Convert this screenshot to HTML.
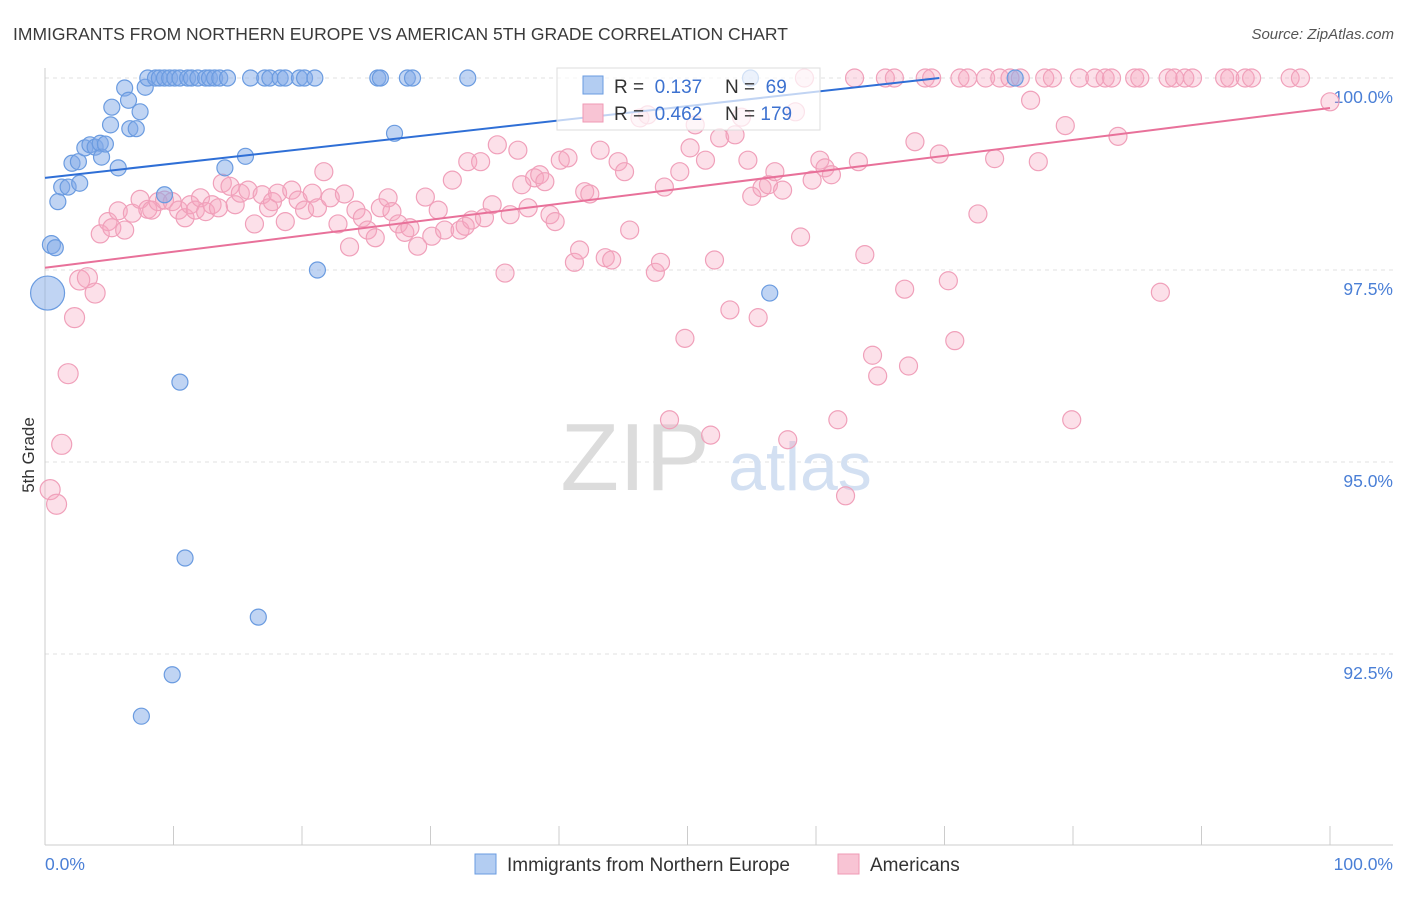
<!DOCTYPE html>
<html><head><meta charset="utf-8">
<style>
body{margin:0;background:#fff;font-family:"Liberation Sans",sans-serif;}
svg text{font-family:"Liberation Sans",sans-serif;}
</style></head>
<body>
<svg id="chart" width="1406" height="892" xmlns="http://www.w3.org/2000/svg">
<text x="13" y="40" font-size="17.5" fill="#3a3a3a">IMMIGRANTS FROM NORTHERN EUROPE VS AMERICAN 5TH GRADE CORRELATION CHART</text>
<text x="1394" y="39" font-size="15" fill="#555" font-style="italic" text-anchor="end">Source: ZipAtlas.com</text>
<g id="grid"></g>
<g>
<text x="635" y="490" font-size="96" fill="#dcdcdc" font-family="Liberation Serif" text-anchor="middle">ZIP</text>
<text x="800" y="490" font-size="68" fill="#d3e0f2" text-anchor="middle">atlas</text>
</g>
<g id="axes"></g>
<g id="pinkPts"></g>
<g id="bluePts"></g>
<g id="trends"></g>
<text transform="translate(34,455) rotate(-90)" font-size="17" fill="#333" text-anchor="middle">5th Grade</text>
<g>
<rect x="557" y="68" width="263" height="62" fill="#fff" fill-opacity="0.7" stroke="#ddd"/>
<rect x="583" y="76" width="20" height="18" fill="#b3cdf2" stroke="#6a9be0"/>
<rect x="583" y="104" width="20" height="18" fill="#f8c4d4" stroke="#ef9ab5"/>
<text x="614" y="93" font-size="19" fill="#333">R = <tspan fill="#3d72d0">&#160;0.137</tspan><tspan x="725">N = </tspan><tspan fill="#3d72d0">&#160;69</tspan></text>
<text x="614" y="120" font-size="19" fill="#333">R = <tspan fill="#3d72d0">&#160;0.462</tspan><tspan x="725">N = </tspan><tspan fill="#3d72d0">179</tspan></text>
</g>
<g>
<rect x="475" y="854" width="21" height="20" fill="#b3cdf2" stroke="#6a9be0"/>
<text x="507" y="871" font-size="19" fill="#333">Immigrants from Northern Europe</text>
<rect x="838" y="854" width="21" height="20" fill="#f8c4d4" stroke="#ef9ab5"/>
<text x="870" y="871" font-size="19" fill="#333">Americans</text>
</g>
</svg>
<script>
const yTicks=[92.5,95.0,97.5,100.0];
const xTickCount=10;
const blueX=[0.5,0.2,0.8,1.0,1.3,1.8,2.7,2.1,2.6,3.1,3.5,3.9,4.3,4.4,4.7,5.2,5.1,5.7,6.2,6.5,6.6,7.1,7.4,7.8,8.0,8.6,8.9,9.3,9.7,10.1,10.5,11.1,11.4,11.9,12.5,12.8,13.2,13.6,14.2,16.0,17.1,17.5,18.3,18.7,19.8,20.2,21.0,25.9,26.1,28.2,28.6,32.9,54.9,75.5,9.3,14.0,15.6,27.2,21.2,10.5,10.9,16.6,9.9,7.5,56.4];
const blueY=[97.83,97.2,97.79,98.39,98.58,98.58,98.63,98.89,98.91,99.09,99.13,99.10,99.15,98.97,99.14,99.62,99.39,98.83,99.87,99.71,99.34,99.34,99.56,99.88,100,100,100,100,100,100,100,100,100,100,100,100,100,100,100,100,100,100,100,100,100,100,100,100,100,100,100,100,100,100,98.48,98.83,98.98,99.28,97.50,96.04,93.75,92.98,92.23,91.69,97.20];
const blueR=[10,18,9,9,9,9,9,9,9,9,9,9,9,9,9,9,9,9,9,9,9,9,9,9,9,9,9,9,9,9,9,9,9,9,9,9,9,9,9,9,9,9,9,9,9,9,9,9,9,9,9,9,9,9,9,9,9,9,9,9,9,9,9,9,9];
const pinkX=[0.4,0.9,1.3,1.8,2.3,2.7,3.3,3.9,4.3,4.9,5.2,5.7,6.2,6.8,7.4,8.0,8.3,8.8,9.3,9.9,10.4,10.9,11.3,11.7,12.1,12.5,13.0,13.5,13.8,14.4,14.8,15.2,15.8,16.3,16.9,17.4,17.7,18.1,18.7,19.2,19.7,20.2,20.8,21.2,21.7,22.2,22.8,23.3,23.7,24.2,24.7,25.1,25.7,26.1,26.7,27.0,27.5,28.0,28.4,29.0,29.6,30.1,30.6,31.1,31.7,32.3,32.7,32.9,33.2,33.9,34.2,34.8,35.2,35.8,36.2,36.8,37.1,37.6,38.1,38.5,38.9,39.3,39.7,40.1,40.7,41.2,41.6,42.0,42.4,43.2,43.6,44.1,44.6,45.1,45.5,46.3,46.9,47.5,47.9,48.2,48.6,49.4,49.8,50.2,50.6,51.4,51.8,52.1,52.5,53.3,53.7,54.2,54.7,55.0,55.5,55.8,56.3,56.8,57.4,57.8,58.4,58.8,59.1,59.7,60.3,60.7,61.2,61.7,62.3,63.0,63.3,63.8,64.4,64.8,65.4,66.1,66.9,67.2,67.7,68.5,69.0,69.6,70.3,70.8,71.2,71.8,72.6,73.2,73.9,74.3,75.1,75.9,76.7,77.3,77.8,78.4,79.4,79.9,80.5,81.7,82.5,83.0,83.5,84.8,85.2,86.8,87.4,87.9,88.7,89.3,91.8,92.2,93.4,93.9,96.9,97.7,100];
const pinkY=[94.64,94.45,95.23,96.15,96.88,97.37,97.40,97.20,97.97,98.13,98.05,98.27,98.02,98.24,98.42,98.29,98.28,98.39,98.41,98.39,98.28,98.18,98.35,98.28,98.44,98.26,98.35,98.31,98.63,98.59,98.35,98.50,98.54,98.10,98.48,98.31,98.39,98.50,98.13,98.54,98.41,98.28,98.50,98.31,98.78,98.44,98.10,98.49,97.80,98.28,98.18,98.02,97.92,98.31,98.44,98.26,98.10,97.99,98.05,97.81,98.45,97.94,98.28,98.02,98.67,98.02,98.07,98.91,98.15,98.91,98.18,98.35,99.13,97.46,98.22,99.06,98.61,98.31,98.70,98.74,98.65,98.22,98.13,98.93,98.96,97.60,97.76,98.52,98.49,99.06,97.66,97.63,98.91,98.78,98.02,99.48,99.52,97.47,97.60,98.58,95.55,98.78,96.61,99.09,99.39,98.93,95.35,97.63,99.22,96.98,99.26,99.49,98.93,98.46,96.88,98.57,98.61,98.78,98.54,95.29,99.56,97.93,100,98.67,98.93,98.83,98.74,95.55,94.56,100,98.91,97.70,96.39,96.12,100,100,97.25,96.25,99.17,100,100,99.01,97.36,96.58,100,100,98.23,100,98.95,100,100,100,99.71,98.91,100,100,99.38,95.55,100,100,100,100,99.24,100,100,97.21,100,100,100,100,100,100,100,100,100,100,99.69];
const blueTrend=[[0,98.70],[69.6,100.0]];
const pinkTrend=[[0,97.53],[100,99.61]];

const NS="http://www.w3.org/2000/svg";
const X0=45,X1=1330,Y100=78,PX_PER_PCT=76.8;
function sx(v){return X0+(X1-X0)*v/100;}
function sy(v){return Y100-(v-100)*PX_PER_PCT;}
function mk(tag,attrs,parent){const e=document.createElementNS(NS,tag);for(const k in attrs)e.setAttribute(k,attrs[k]);parent.appendChild(e);return e;}
const grid=document.getElementById('grid');
const axes=document.getElementById('axes');
yTicks.forEach(t=>{
  const l=mk('line',{x1:45,x2:1393,y1:sy(t),y2:sy(t),stroke:'#e2e2e2','stroke-dasharray':'4,4'},grid);
  
  
  const tx=mk('text',{x:1393,y:sy(t)+25,'font-size':'17.5','fill':'#4a7fd6','text-anchor':'end'},axes);
  tx.textContent=t.toFixed(1)+'%';
  
  
});
const ax=mk('line',{x1:45,x2:45,y1:68,y2:845,stroke:'#ccc'},axes);


const bx=mk('line',{x1:45,x2:1393,y1:845,y2:845,stroke:'#ccc'},axes);


for(let i=0;i<=xTickCount;i++){
  const x=sx(i*100/xTickCount);
  const tk=mk('line',{x1:x,x2:x,y1:826,y2:845,stroke:'#ccc'},axes);
  
  
}
const xl=mk('text',{x:45,y:870,'font-size':'17.5',fill:'#4a7fd6'},axes);xl.textContent='0.0%';


const xr=mk('text',{x:1393,y:870,'font-size':'17.5',fill:'#4a7fd6','text-anchor':'end'},axes);xr.textContent='100.0%';



const pg=document.getElementById('pinkPts');
pinkX.forEach((v,i)=>{
  const c=mk('circle',{cx:sx(v),cy:sy(pinkY[i]),r:(i<8?10:9),fill:'rgba(245,165,192,0.35)',stroke:'#f0a0ba','stroke-width':'1.2'},pg);
  
  
});
const bg=document.getElementById('bluePts');
blueX.forEach((v,i)=>{
  const c=mk('circle',{cx:sx(v),cy:sy(blueY[i]),r:blueR[i]-1,fill:'rgba(130,170,232,0.5)',stroke:'#6a9be0','stroke-width':'1.2'},bg);
  
  
});
const tg=document.getElementById('trends');
const bl=mk('line',{x1:sx(blueTrend[0][0]),y1:sy(blueTrend[0][1]),x2:sx(blueTrend[1][0]),y2:sy(blueTrend[1][1]),stroke:'#2f6fd6','stroke-width':'2'},tg);


const pl=mk('line',{x1:sx(pinkTrend[0][0]),y1:sy(pinkTrend[0][1]),x2:sx(pinkTrend[1][0]),y2:sy(pinkTrend[1][1]),stroke:'#e8719a','stroke-width':'2'},tg);


</script>
</body></html>
